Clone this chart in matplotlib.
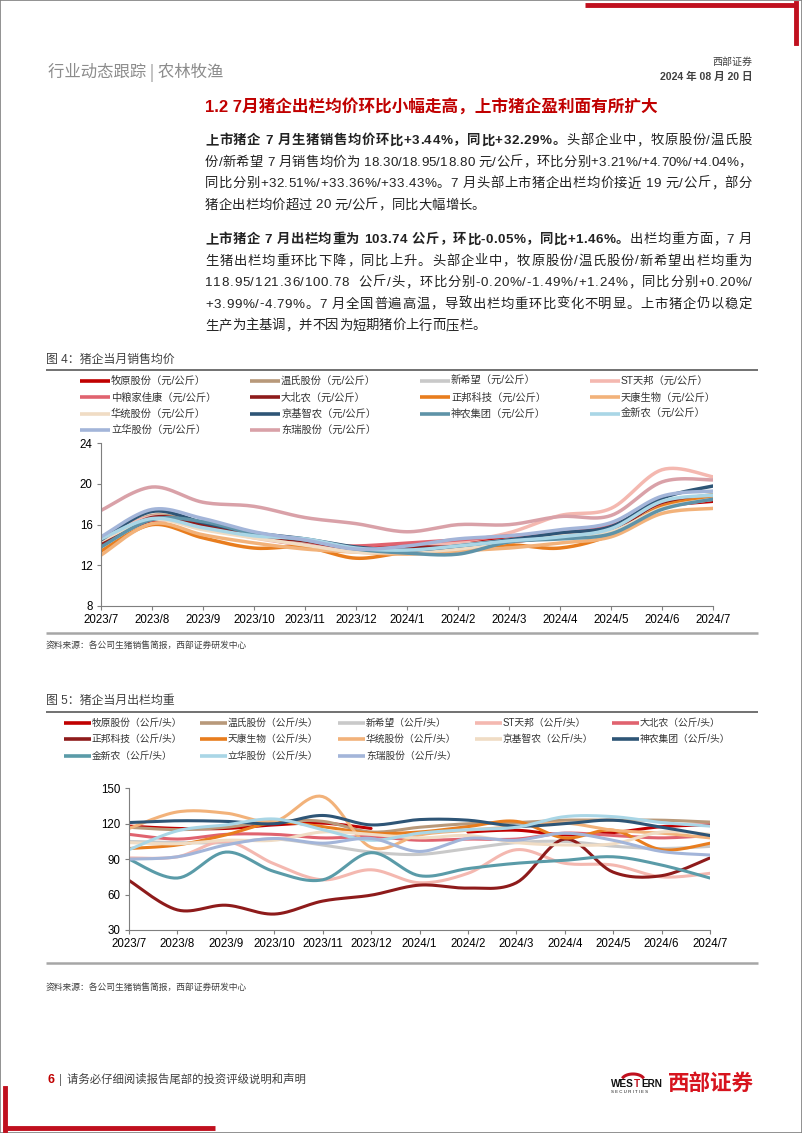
import numpy as np
import matplotlib
matplotlib.use('Agg')
import matplotlib.pyplot as plt
from matplotlib.lines import Line2D
from matplotlib.patches import Rectangle
from matplotlib.font_manager import FontProperties

W, H = 802, 1133
CJK = ['Noto Sans CJK SC', 'DejaVu Sans']
LAT = ['Liberation Sans', 'Noto Sans CJK SC', 'DejaVu Sans']

months = ['2023/7', '2023/8', '2023/9', '2023/10', '2023/11', '2023/12', '2024/1',
          '2024/2', '2024/3', '2024/4', '2024/5', '2024/6', '2024/7']

# 图4 猪企当月销售均价 (元/公斤)
price_names = ['牧原股份', '温氏股份', '新希望', 'ST天邦', '中粮家佳康', '大北农', '正邦科技',
               '天康生物', '华统股份', '京基智农', '神农集团', '金新农', '立华股份', '东瑞股份']
price_muyuan = [14.1, 16.4, 15.9, 14.9, 14.1, 13.8, 14.1, 14.4, 14.6, 15.0, 15.6, 17.7, 18.3]
price_wens = [14.3, 16.9, 16.0, 15.0, 14.2, 13.5, 13.4, 13.8, 14.5, 15.1, 15.8, 18.1, 18.95]
price_xinxiwang = [14.2, 16.7, 15.8, 15.0, 14.3, 13.6, 13.6, 14.0, 14.5, 15.1, 15.6, 18.0, 18.8]
price_tianbang = [14.5, 16.8, 15.8, 14.7, 14.0, 13.6, 13.8, 14.3, 15.2, 16.9, 17.6, 21.4, 20.7]
price_zhongliang = [14.0, 16.6, 15.8, 14.8, 14.0, 13.9, 14.2, 14.5, 14.9, 15.2, 15.9, 18.1, 18.7]
price_dabeinong = [14.0, 16.7, 16.0, 14.9, 14.4, 13.6, 13.8, 13.8, 14.3, 14.8, 15.4, 18.2, 18.4]
price_zhengbang = [13.4, 16.0, 14.7, 13.7, 13.8, 12.7, 13.3, 13.5, 14.0, 13.7, 15.0, 17.8, 18.7]
price_tiankang = [13.0, 16.1, 15.0, 14.2, 13.6, 13.3, 13.1, 13.4, 13.7, 14.2, 14.8, 17.1, 17.6]
price_huatong = [14.4, 16.5, 15.5, 14.7, 14.0, 13.3, 13.3, 13.6, 14.3, 14.9, 15.3, 17.6, 18.5]
price_jingji = [14.5, 17.3, 16.2, 15.2, 14.6, 13.8, 13.5, 13.9, 14.5, 15.2, 15.8, 18.6, 19.8]
price_shennong = [13.8, 16.5, 16.3, 15.1, 14.5, 13.6, 13.2, 13.1, 14.3, 14.6, 15.1, 17.5, 18.5]
price_jinxinnong = [14.6, 16.6, 15.7, 14.9, 14.6, 13.7, 13.5, 13.9, 14.4, 14.8, 15.6, 18.3, 18.9]
price_lihua = [14.8, 17.5, 16.6, 15.3, 14.5, 13.6, 13.9, 14.6, 14.9, 15.5, 16.2, 18.8, 19.3]
price_dongrui = [17.4, 19.7, 18.2, 17.8, 16.7, 16.1, 15.3, 16.0, 16.0, 16.8, 16.9, 20.2, 20.4]
price_series = [price_muyuan, price_wens, price_xinxiwang, price_tianbang, price_zhongliang,
                price_dabeinong, price_zhengbang, price_tiankang, price_huatong, price_jingji,
                price_shennong, price_jinxinnong, price_lihua, price_dongrui]
price_colors = ['#C00000', '#B8997A', '#C9C9C9', '#F4B8B0', '#E0636F', '#8E1B1B', '#E87D1E',
                '#F2B27A', '#F0DCC4', '#2E5576', '#5E93A8', '#A9D6E6', '#A3B5D9', '#D9A1A8']

# 图5 猪企当月出栏均重 (公斤/头)
weight_names = ['牧原股份', '温氏股份', '新希望', 'ST天邦', '大北农', '正邦科技', '天康生物',
                '华统股份', '京基智农', '神农集团', '金新农', '立华股份', '东瑞股份']
nan = np.nan
wt_muyuan = [118, 116, 116, 119, 120.5, 116, nan, 113, 114.5, 110.5, 112.5, 117.5, 119]
wt_wens = [117, 115, 117, 122, 122, 113, 117, 120, 121, 123, 123, 123, 121.4]
wt_xinxiwang = [105, 104, 104, 107, 102, 96, 94, 99, 104, 105, 101, 99, 100.8]
wt_tianbang = [91, 92, 105, 86, 72.5, 81, 70, 78, 98, 86.5, 85, 75, 78]
wt_dabeinong = [111, 107, 111, 111, 108, 109, 106, 107, 107, 112, 110, 108, 110]
wt_zhengbang = [72, 47, 51, 43.5, 54.5, 59.5, 68, 65.5, 70, 107, 79, 76, 91]
wt_tiankang = [99, 102, 110.5, 121, 117.5, 112, 113, 117.5, 122, 108, 114.5, 98, 103.5]
wt_huatong = [116, 130, 129, 122, 143, 100, 110.5, 114.5, 117.5, 120.5, 114.5, 112, 108]
wt_jingji = [104, 103, 106, 106, 113, 111, 108, 110, 104, 102, 103, 113, 111]
wt_shennong = [121, 122.5, 122, 120, 127, 119, 123.5, 123, 118, 120, 123, 117, 110]
wt_jinxinnong = [90, 74, 96, 79.5, 72.5, 95.5, 76, 82, 86.5, 89, 92, 85, 74]
wt_lihua = [98, 114, 119, 124, 115, 106, 112, 115, 117, 126, 126, 121, 118]
wt_dongrui = [90, 92, 102, 107.5, 103.5, 107.5, 96.5, 107.5, 106, 112, 106, 96.5, 93.5]
weight_series = [wt_muyuan, wt_wens, wt_xinxiwang, wt_tianbang, wt_dabeinong, wt_zhengbang,
                 wt_tiankang, wt_huatong, wt_jingji, wt_shennong, wt_jinxinnong, wt_lihua, wt_dongrui]
weight_colors = ['#C00000', '#B8997A', '#C9C9C9', '#F4B8B0', '#E0636F', '#8E1B1B', '#E87D1E',
                 '#F2B27A', '#F0DCC4', '#2E5576', '#5A9BA8', '#A9D6E6', '#A3B5D9']

para1 = [
    [('上市猪企 7 月生猪销售均价环比+3.44%，同比+32.29%。', 'bold'), ('头部企业中，牧原股份/温氏股', 'normal')],
    [('份/新希望 7 月销售均价为 18.30/18.95/18.80 元/公斤，环比分别+3.21%/+4.70%/+4.04%，', 'normal')],
    [('同比分别+32.51%/+33.36%/+33.43%。7 月头部上市猪企出栏均价接近 19 元/公斤，部分', 'normal')],
    [('猪企出栏均价超过 20 元/公斤，同比大幅增长。', 'normal')],
]
para2 = [
    [('上市猪企 7 月出栏均重为 103.74 公斤，环比-0.05%，同比+1.46%。', 'bold'), ('出栏均重方面，7 月', 'normal')],
    [('生猪出栏均重环比下降，同比上升。头部企业中，牧原股份/温氏股份/新希望出栏均重为', 'normal')],
    [('118.95/121.36/100.78  公斤/头，环比分别-0.20%/-1.49%/+1.24%，同比分别+0.20%/', 'normal')],
    [('+3.99%/-4.79%。7 月全国普遍高温，导致出栏均重环比变化不明显。上市猪企仍以稳定', 'normal')],
    [('生产为主基调，并不因为短期猪价上行而压栏。', 'normal')],
]

fig = plt.figure(figsize=(W / 100, H / 100), dpi=100)
renderer = fig.canvas.get_renderer()


def fx(x):
    return x / W


def fy(y):
    return 1 - y / H


def txt(x, y, s, size, color='#222222', weight='normal', ha='left', family=LAT):
    return fig.text(fx(x), fy(y), s, fontsize=size, color=color, fontweight=weight,
                    ha=ha, va='center', family=family)


def hline(x0, x1, y, color, lw):
    fig.add_artist(Line2D([fx(x0), fx(x1)], [fy(y), fy(y)], color=color, lw=lw,
                          transform=fig.transFigure, solid_capstyle='butt'))


def text_width(s, weight, size, family=LAT):
    fp = FontProperties(family=family, weight=weight, size=size)
    w, h, d = renderer.get_text_width_height_descent(s, fp, ismath=False)
    if s == ' ':
        w = size * 100 / 72 * 0.28
    return w


def put_line(x0, y, segs, size, width=None):
    """place a line char by char so it can be justified to a given width"""
    chars = [(c, w) for s, w in segs for c in s]
    widths = [text_width(c, w, size) for c, w in chars]
    gap = 0
    if width is not None:
        gap = (width - sum(widths)) / (len(chars) - 1)
    x = x0
    for (c, w), cw in zip(chars, widths):
        if c != ' ':
            txt(x, y, c, size, weight=w)
        x += cw + gap


def smooth(xs, ys, n=16):
    """Catmull-Rom style curve through the points, split at gaps"""
    xs = np.asarray(xs, float)
    ys = np.asarray(ys, float)
    out = []
    idx = np.where(~np.isnan(ys))[0]
    runs = np.split(idx, np.where(np.diff(idx) != 1)[0] + 1)
    for r in runs:
        px, py = xs[r], ys[r]
        if len(px) == 1:
            out.append((px, py))
            continue
        cx, cy = [], []
        for i in range(len(px) - 1):
            p0 = max(i - 1, 0)
            p3 = min(i + 2, len(px) - 1)
            t = np.linspace(0, 1, n)
            for arr, dst in ((px, cx), (py, cy)):
                a, b, c, d = arr[p0], arr[i], arr[i + 1], arr[p3]
                b1 = b + (c - a) / 6
                b2 = c - (d - b) / 6
                seg = ((1 - t) ** 3) * b + 3 * ((1 - t) ** 2) * t * b1 + 3 * (1 - t) * t * t * b2 + t ** 3 * c
                dst.extend(seg if i == 0 else seg[1:])
        out.append((np.array(cx), np.array(cy)))
    return out


def style_axis(ax, ylim, yticks):
    ax.set_xlim(0, len(months) - 1)
    ax.set_ylim(*ylim)
    ax.set_yticks(yticks)
    ax.set_xticks(range(len(months)))
    ax.set_xticklabels(months)
    for s in ('top', 'right'):
        ax.spines[s].set_visible(False)
    for s in ('left', 'bottom'):
        ax.spines[s].set_color('#7F7F7F')
        ax.spines[s].set_linewidth(0.8)
    ax.tick_params(colors='#7F7F7F', length=3, width=0.8, labelsize=8.3, pad=3)
    for lab in ax.get_xticklabels() + ax.get_yticklabels():
        lab.set_color('#000000')
        lab.set_family(LAT)
    ax.patch.set_alpha(0)


# page frame and red decorations
fig.add_artist(Rectangle((0, 0), 1, 1, transform=fig.transFigure, fill=False, ec='#7F7F7F', lw=1.2))
red = '#C0101E'
hline(585, 797, 4.5, red, 3.5)
fig.add_artist(Line2D([fx(796), fx(796)], [fy(3), fy(43)], color=red, lw=3.5, transform=fig.transFigure))
fig.add_artist(Line2D([fx(5), fx(5)], [fy(1088), fy(1130)], color=red, lw=3.5, transform=fig.transFigure))
hline(3, 215, 1127.5, red, 3.5)

# header
txt(48, 72, '行业动态跟踪 | 农林牧渔', 11.8, color='#8C8C8C', family=CJK)
txt(752, 62, '西部证券', 7.2, color='#404040', ha='right', family=CJK)
txt(752, 77, '2024 年 08 月 20 日', 7.6, color='#404040', weight='bold', ha='right')

# section title and paragraphs
txt(205, 107, '1.2 7月猪企出栏均价环比小幅走高，上市猪企盈利面有所扩大', 12, color='#C00000', weight='bold')
body = 9.6
step = 21.5
for i, segs in enumerate(para1):
    put_line(205, 141 + i * step, segs, body, None if i == len(para1) - 1 else 547)
for i, segs in enumerate(para2):
    put_line(205, 240 + i * step, segs, body, None if i == len(para2) - 1 else 547)

# figure 4
txt(46, 360, '图 4：猪企当月销售均价', 8.6, color='#404040')
hline(46, 758, 370, '#595959', 1.2)
col_x = [80, 250, 420, 590]
for k, (name, col) in enumerate(zip(price_names, price_colors)):
    x0 = col_x[k % 4]
    y0 = 381 + (k // 4) * 16.3
    hline(x0, x0 + 30, y0, col, 2.6)
    txt(x0 + 31, y0, name + '（元/公斤）', 7.4, color='#333333')

ax1 = fig.add_axes([fx(101), fy(606), (713 - 101) / W, (606 - 443.3) / H])
xs = np.arange(len(months))
for vals, col in zip(price_series, price_colors):
    for cx, cy in smooth(xs, vals):
        ax1.plot(cx, cy, color=col, lw=2.5, solid_capstyle='round')
style_axis(ax1, (8, 24), [8, 12, 16, 20, 24])
hline(46, 758, 633, '#A6A6A6', 1.8)
txt(46, 645, '资料来源：各公司生猪销售简报，西部证券研发中心', 6.3, color='#404040')

# figure 5
txt(46, 701, '图 5：猪企当月出栏均重', 8.6, color='#404040')
hline(46, 758, 712, '#595959', 1.2)
col_x2 = [64, 200, 338, 475, 612]
for k, (name, col) in enumerate(zip(weight_names, weight_colors)):
    x0 = col_x2[k % 5]
    y0 = 722.5 + (k // 5) * 16.6
    hline(x0, x0 + 27, y0, col, 2.6)
    txt(x0 + 28, y0, name + '（公斤/头）', 7.0, color='#333333')

ax2 = fig.add_axes([fx(129), fy(930), (710 - 129) / W, (930 - 788.3) / H])
for vals, col in zip(weight_series, weight_colors):
    for cx, cy in smooth(xs, vals):
        ax2.plot(cx, cy, color=col, lw=2.2, solid_capstyle='round')
style_axis(ax2, (30, 150), [30, 60, 90, 120, 150])
hline(46, 758, 963, '#A6A6A6', 1.8)
txt(46, 987, '资料来源：各公司生猪销售简报，西部证券研发中心', 6.3, color='#404040')

# footer
txt(48, 1080, '6', 9, color='#C00000', weight='bold')
txt(59, 1080, '|  请务必仔细阅读报告尾部的投资评级说明和声明', 8.2, color='#404040', family=CJK)
# logo: WESTERN with a red T under the horns
lx = 611
for part, col in (('WES', '#111111'), ('T', '#C0101E'), ('ERN', '#111111')):
    txt(lx, 1084, part, 7.2, color=col, weight='bold')
    lx += text_width(part, 'bold', 7.2) + 0.5
txt(611, 1092, 'S E C U R I T I E S', 3.2, color='#111111')
th = np.linspace(0.15 * np.pi, 0.85 * np.pi, 30)
fig.add_artist(Line2D(fx(633 + 11 * np.cos(th)), fy(1079 - 6 * np.sin(th) + 1),
                      color='#C0101E', lw=2.2, transform=fig.transFigure))
txt(668, 1083, '西部证券', 15.5, color='#D7141E', weight='bold', family=CJK)

fig.savefig('out.png', dpi=100)
